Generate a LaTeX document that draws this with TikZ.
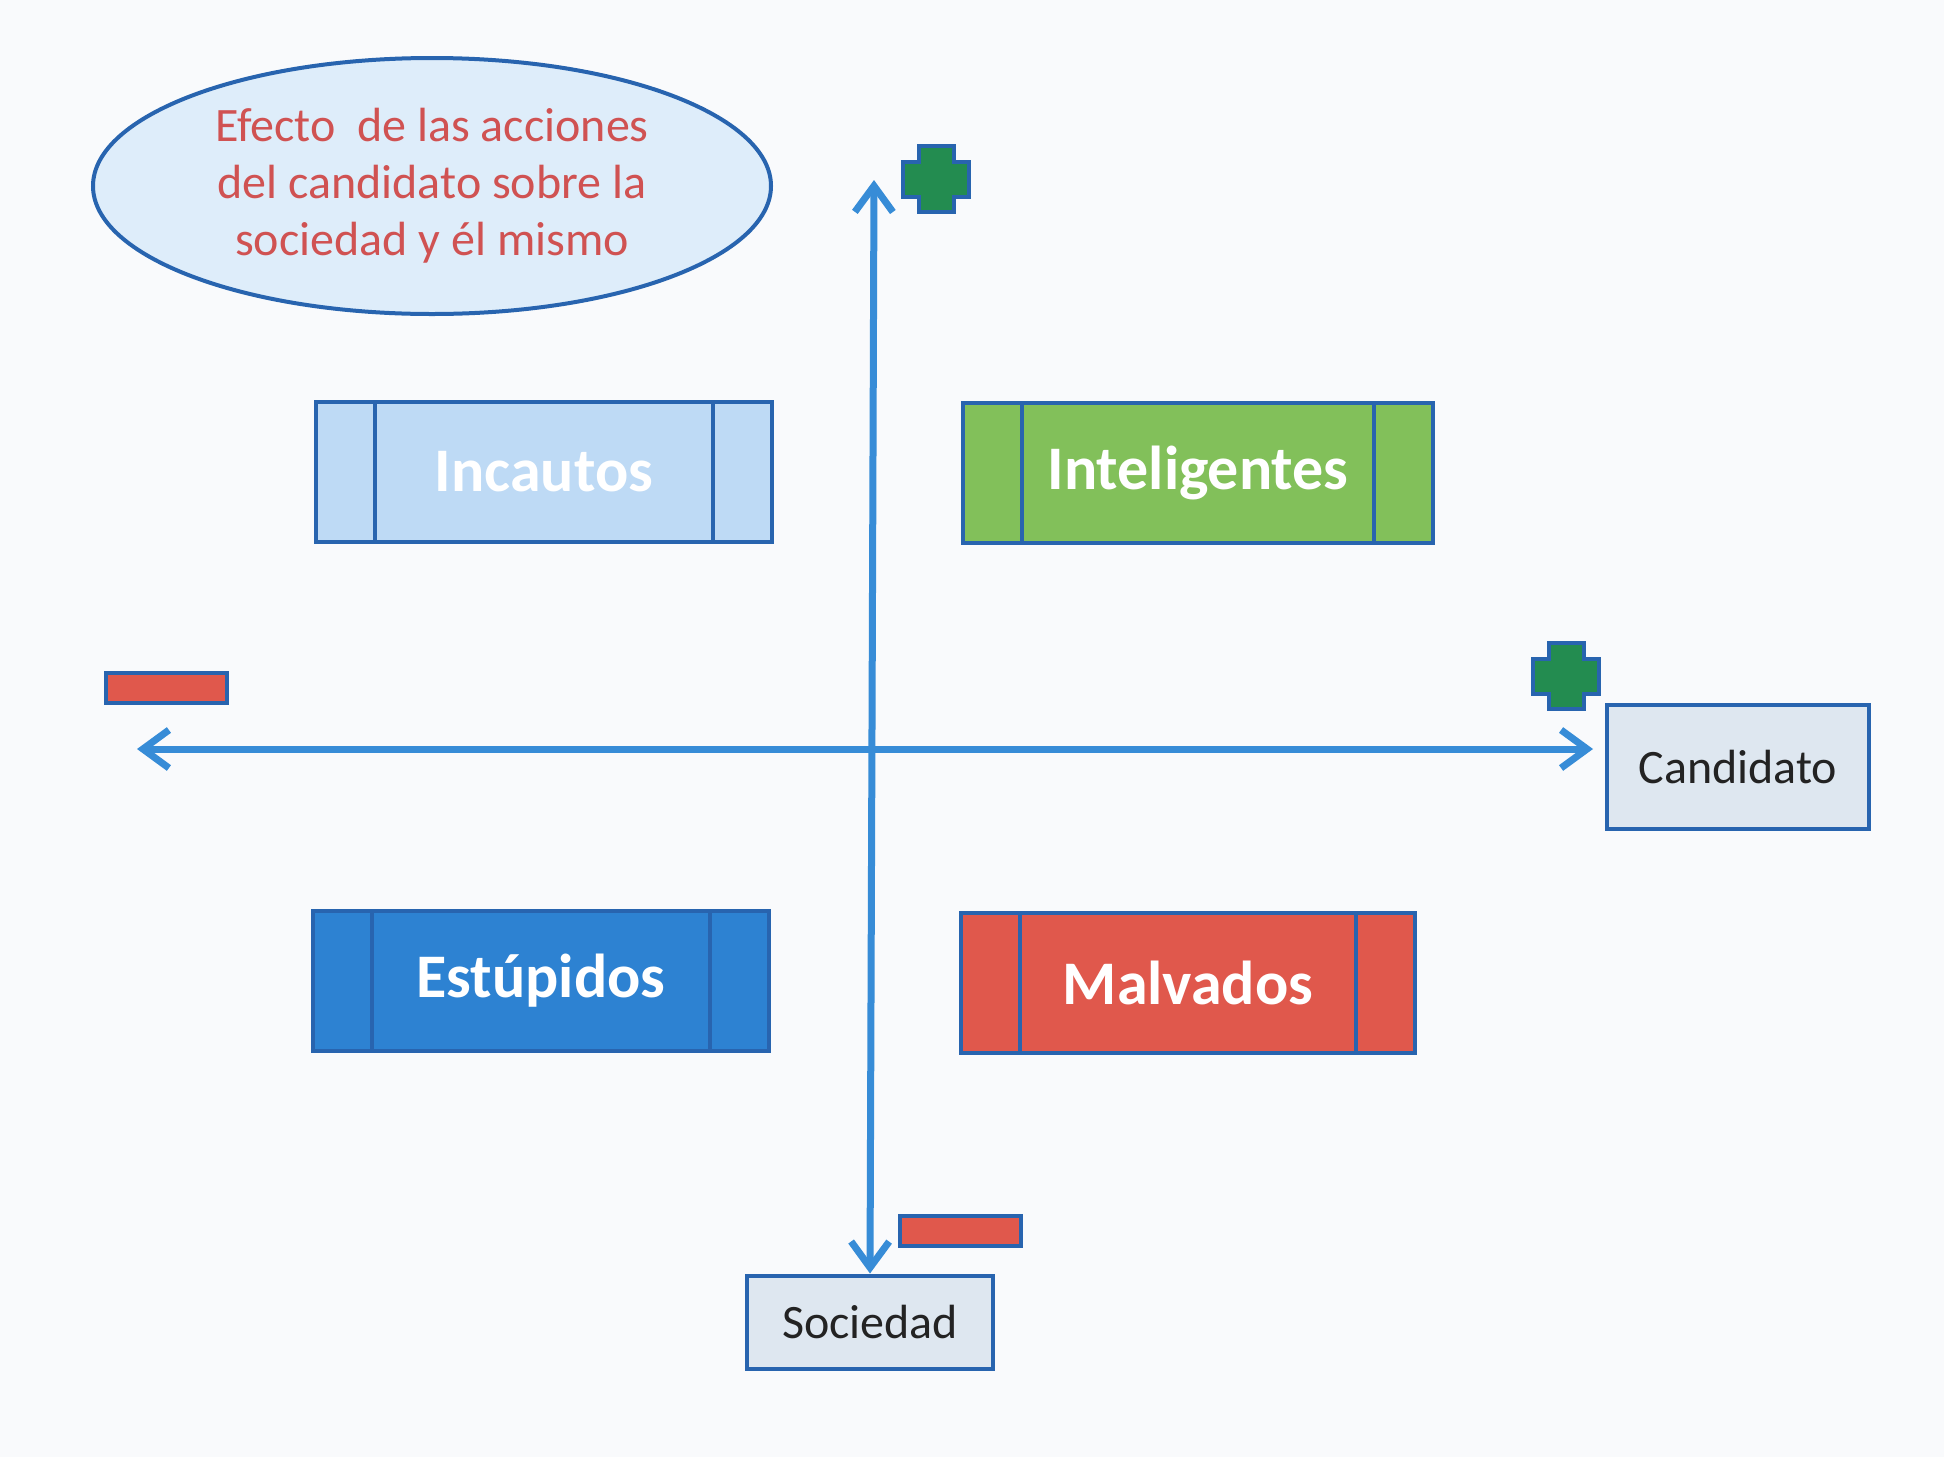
\documentclass[tikz,border=0pt]{standalone}
\usepackage{fontspec}
\setmainfont{Carlito}
\usepackage{tikz}
\usetikzlibrary{arrows.meta,shapes.geometric,positioning}
\usepackage{xcolor}
\definecolor{paper}{RGB}{249,250,252}
\definecolor{axiscol}{RGB}{55,140,215}
\definecolor{edgecol}{RGB}{40,100,175}
\definecolor{titlecol}{RGB}{208,82,82}
\definecolor{ovalfill}{RGB}{222,237,250}
\definecolor{lblfill}{RGB}{222,231,240}
\definecolor{lbltext}{RGB}{35,35,35}
\definecolor{plusfill}{RGB}{35,140,80}
\definecolor{minusfill}{RGB}{224,88,76}
\definecolor{incautoscol}{RGB}{190,218,245}
\definecolor{intelcol}{RGB}{130,192,90}
\definecolor{estupcol}{RGB}{45,130,210}
\definecolor{malvcol}{RGB}{224,88,76}
\tikzset{
  % axis line with open tips
  axisline/.style={
    {Straight Barb[length=13pt,width=19pt]}-{Straight Barb[length=13pt,width=19pt]},
    line width=3.5pt, draw=axiscol, line cap=round},
  % heading oval
  oval/.style={ellipse, draw=edgecol, line width=2pt, fill=ovalfill,
               minimum width=339pt, minimum height=128pt, inner sep=0pt,
               align=center, text=titlecol, font=\fontsize{24}{28.5}\selectfont},
  % quadrant box with two side panels
  qbox/.style={rectangle, draw=edgecol, line width=2pt, fill=#1,
               minimum width=228pt, minimum height=70pt, inner sep=0pt,
               text=white, font=\fontsize{31}{37}\selectfont\bfseries,
               path picture={
                 \draw[edgecol, line width=2pt]
                   ([xshift=29.5pt]path picture bounding box.north west) --
                   ([xshift=29.5pt]path picture bounding box.south west);
                 \draw[edgecol, line width=2pt]
                   ([xshift=-29.5pt]path picture bounding box.north east) --
                   ([xshift=-29.5pt]path picture bounding box.south east);
               }},
  qbox/.default={white},
  % axis label box
  lbox/.style={rectangle, draw=edgecol, line width=2pt, fill=lblfill,
               text=lbltext, font=\fontsize{24}{28.5}\selectfont},
  % minus sign
  minusbar/.style={rectangle, draw=edgecol, line width=2pt, fill=minusfill,
                   minimum width=60.5pt, minimum height=15pt, inner sep=0pt},
  % plus sign
  pluscross/.pic={
    \filldraw[draw=edgecol, fill=plusfill, line width=2pt, line join=miter]
      (-17.5,-33) -- (17.5,-33) -- (17.5,-17.5) -- (33,-17.5) -- (33,17.5)
      -- (17.5,17.5) -- (17.5,33) -- (-17.5,33) -- (-17.5,17.5) -- (-33,17.5)
      -- (-33,-17.5) -- (-17.5,-17.5) -- cycle;
  },
}
\begin{document}
\begin{tikzpicture}[x=0.5pt, y=-0.5pt]
  \fill[paper] (0,0) rectangle (1944,1457);
  \useasboundingbox (0,0) rectangle (1944,1457);

  % heading
  \node[oval] (title) at (432,186)
    {Efecto\ \ de las acciones\\del candidato sobre la\\sociedad y él mismo};

  % quadrants
  \node[qbox=incautoscol, minimum width=228pt] (incautos) at (544,472) {Incautos};
  \node[qbox=intelcol, minimum width=235pt] (intel) at (1198,473) {Inteligentes};
  \node[qbox=estupcol, minimum width=228pt] (estup) at (541,981) {Estúpidos};
  \node[qbox=malvcol, minimum width=227pt] (malv) at (1188,983) {Malvados};

  % axis labels
  \node[lbox, minimum width=131pt, minimum height=62pt] (cand) at (1738,767) {Candidato};
  \node[lbox, minimum width=123pt, minimum height=46.5pt] (soc) at (870,1322) {Sociedad};

  % axes
  \coordinate (xleft) at (137,749);
  \coordinate (xright) at (1593,749);
  \coordinate (ytop) at (874,180);
  \coordinate (ybot) at (soc.north);
  \draw[axisline] (xleft) -- (xright);
  \draw[axisline] (ytop) -- (ybot);

  % signs
  \pic (plustop) at (936,179) {pluscross};
  \pic (plusright) at (1566,676) {pluscross};
  \node[minusbar] (minusleft) at (166,688) {};
  \node[minusbar] (minusbot) at (960,1231) {};
\end{tikzpicture}
\end{document}
